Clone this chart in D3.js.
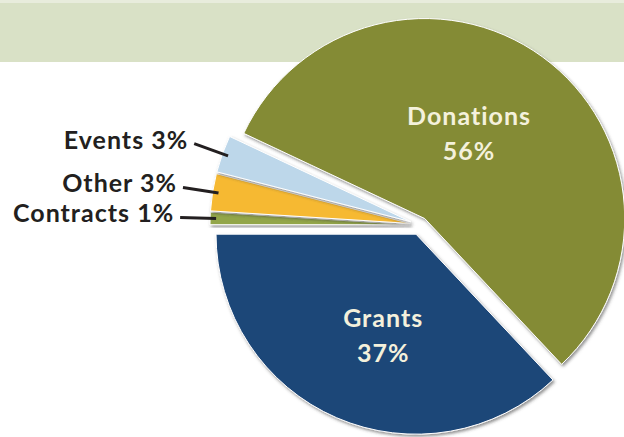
<!DOCTYPE html>
<html>
<head>
<meta charset="utf-8">
<script src="https://cdn.jsdelivr.net/npm/d3@7"></script>
<style>
  html, body { margin: 0; padding: 0; background: #fff; }
  svg { display: block; }
  text { font-family: Lato, "Open Sans", sans-serif; font-weight: 700; }
</style>
</head>
<body>
<svg width="624" height="437"></svg>
<script>
(function () {

	// clockwise from the upper left edge of Donations
	var categories = ["Donations", "Grants", "Contracts", "Other", "Events"];
	var shares = [56, 37, 1, 3, 3];
	var shareLabels = ["56%", "37%", "1%", "3%", "3%"];
	var sliceColors = ["#848b35", "#1c4678", "#93a64a", "#f6b932", "#bdd7ea"];

	var width = 624, height = 437;
	var cx = 420, cy = 225, radius = 200;

	// how far each slice is pulled out of the pie
	var explode = { Donations: 8, Grants: 10, Contracts: 10, Other: 10, Events: 10 };
	// inside labels: distance from the slice tip and turn (deg) from the mid angle
	var innerLabel = { Donations: { dist: 96, turn: -8.5 }, Grants: { dist: 107, turn: -5.5 } };

	var svg = d3.select("svg");

	var defs = svg.append("defs");
	var shadow = defs.append("filter")
		.attr("id", "shadow")
		.attr("x", "-20%").attr("y", "-20%")
		.attr("width", "140%").attr("height", "140%");
	shadow.append("feDropShadow")
		.attr("dx", 1.5)
		.attr("dy", 2)
		.attr("stdDeviation", 1.8)
		.attr("flood-color", "#3a3a3a")
		.attr("flood-opacity", 0.55);

	// header band
	svg.append("rect")
		.attr("x", 0).attr("y", 0)
		.attr("width", width).attr("height", 62)
		.attr("fill", "#d9e1c6");
	svg.append("rect")
		.attr("x", 0).attr("y", 0)
		.attr("width", width).attr("height", 3)
		.attr("fill", "#e8ecdc");

	var data = categories.map(function (c, i) {
		return { name: c, value: shares[i], label: shareLabels[i], color: sliceColors[i] };
	});

	var start = -Math.PI * 0.36;
	var pie = d3.pie()
		.sort(null)
		.value(function (d) { return d.value; })
		.startAngle(start)
		.endAngle(start + 2 * Math.PI);

	var arcs = pie(data);

	var arc = d3.arc()
		.innerRadius(0)
		.outerRadius(radius);

	function mid(d) { return (d.startAngle + d.endAngle) / 2; }
	function polar(a, r) { return [Math.sin(a) * r, -Math.cos(a) * r]; }
	function offset(d) { return polar(mid(d), explode[d.data.name]); }

	var pieG = svg.append("g")
		.attr("transform", "translate(" + cx + "," + cy + ")");

	// drawing order so upper slices cast their shadow on the lower ones
	var order = ["Grants", "Contracts", "Other", "Events", "Donations"];
	var sorted = order.map(function (n) {
		return arcs.filter(function (a) { return a.data.name === n; })[0];
	});

	pieG.selectAll("path.slice")
		.data(sorted)
		.enter()
		.append("path")
		.attr("class", "slice")
		.attr("transform", function (d) {
			var o = offset(d);
			return "translate(" + o[0] + "," + o[1] + ")";
		})
		.attr("d", arc)
		.attr("fill", function (d) { return d.data.color; })
		.attr("stroke", "#ffffff")
		.attr("stroke-width", 1)
		.attr("filter", "url(#shadow)");

	// labels inside the two big slices
	var big = arcs.filter(function (d) { return innerLabel[d.data.name]; });
	big.forEach(function (d) {
		var o = offset(d);
		var s = innerLabel[d.data.name];
		var p = polar(mid(d) + s.turn * Math.PI / 180, s.dist);
		var x = o[0] + p[0], y = o[1] + p[1];
		var t = pieG.append("text")
			.attr("text-anchor", "middle")
			.attr("fill", "#f4f1dc")
			.style("font-size", "25px")
			.style("letter-spacing", "1px");
		t.append("tspan").attr("x", x).attr("y", y - 8.5).text(d.data.name);
		t.append("tspan").attr("x", x).attr("y", y + 26.5).text(d.data.label);
	});

	// small slices: leader lines and labels to the left
	var small = arcs.filter(function (d) { return !innerLabel[d.data.name]; });

	pieG.selectAll("line.leader")
		.data(small)
		.enter()
		.append("line")
		.attr("class", "leader")
		.attr("x1", function (d) { return offset(d)[0] + polar(mid(d), radius * 1.15)[0]; })
		.attr("y1", function (d) { return offset(d)[1] + polar(mid(d), radius * 1.15)[1]; })
		.attr("x2", function (d) { return offset(d)[0] + polar(mid(d), radius * 0.97)[0]; })
		.attr("y2", function (d) { return offset(d)[1] + polar(mid(d), radius * 0.97)[1]; })
		.attr("stroke", "#231f20")
		.attr("stroke-width", 3);

	pieG.selectAll("text.outer")
		.data(small)
		.enter()
		.append("text")
		.attr("class", "outer")
		.attr("text-anchor", "end")
		.attr("x", function (d) { return offset(d)[0] + polar(mid(d), radius * 1.15)[0] - 6; })
		.attr("y", function (d) { return offset(d)[1] + polar(mid(d), radius * 1.15)[1] + 5; })
		.attr("fill", "#231f20")
		.style("font-size", "25px")
		.style("letter-spacing", "1px")
		.text(function (d) { return d.data.name + " " + d.data.label; });

})();
</script>
</body>
</html>
